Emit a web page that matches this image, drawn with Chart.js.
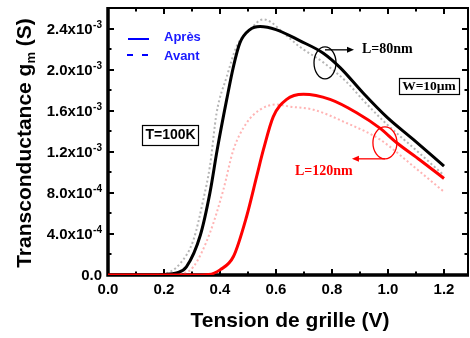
<!DOCTYPE html>
<html><head><meta charset="utf-8">
<script src="https://cdn.jsdelivr.net/npm/chart.js@4"></script>
<style>html,body{margin:0;padding:0;background:#fff}#wrap{width:470px;height:338px}</style>
</head><body><div id="wrap"><canvas id="c" width="470" height="338"></canvas></div>
<script>
// Gate voltage (V) and transconductance (units of 1e-3 S)
const vgApres80 = [0, 0.15, 0.2, 0.245, 0.28, 0.33, 0.364, 0.39, 0.424, 0.448, 0.471, 0.507, 0.543, 0.6, 0.686, 0.769, 0.829, 0.912, 0.995, 1.09, 1.2];
const gmApres80 = [0, 0, 0.005, 0.02, 0.08, 0.39, 0.8, 1.22, 1.71, 2.03, 2.26, 2.39, 2.42, 2.39, 2.28, 2.16, 2.02, 1.77, 1.54, 1.32, 1.06];
const vgAvant80 = [0, 0.15, 0.2, 0.257, 0.305, 0.34, 0.364, 0.388, 0.424, 0.46, 0.507, 0.555, 0.638, 0.686, 0.769, 0.852, 0.912, 0.995, 1.09, 1.2];
const gmAvant80 = [0, 0, 0.01, 0.11, 0.34, 0.73, 1.06, 1.58, 1.93, 2.23, 2.39, 2.49, 2.33, 2.22, 2.07, 1.88, 1.7, 1.47, 1.24, 0.97];
const vgApres120 = [0, 0.3, 0.36, 0.4, 0.448, 0.495, 0.531, 0.555, 0.59, 0.638, 0.698, 0.793, 0.888, 0.971, 1.03, 1.114, 1.2];
const gmApres120 = [0, 0, 0.005, 0.05, 0.18, 0.57, 0.96, 1.22, 1.54, 1.71, 1.76, 1.71, 1.58, 1.43, 1.29, 1.12, 0.94];
const vgAvant120 = [0, 0.22, 0.26, 0.305, 0.364, 0.412, 0.448, 0.495, 0.543, 0.6, 0.65, 0.733, 0.852, 0.971, 1.09, 1.2];
const gmAvant120 = [0, 0, 0.01, 0.08, 0.41, 0.83, 1.22, 1.48, 1.61, 1.66, 1.64, 1.61, 1.48, 1.32, 1.06, 0.81];

const xTicks = [0.0, 0.2, 0.4, 0.6, 0.8, 1.0, 1.2];
const xTickLabels = ['0.0', '0.2', '0.4', '0.6', '0.8', '1.0', '1.2'];
const yTicks = [0, 0.4, 0.8, 1.2, 1.6, 2.0, 2.4];
const yTickMantissa = ['0.0', '4.0x10', '8.0x10', '1.2x10', '1.6x10', '2.0x10', '2.4x10'];
const yTickExponent = ['', '-4', '-4', '-3', '-3', '-3', '-3'];
const legendLabels = ['Après', 'Avant'];
const xTitle = 'Tension de grille (V)';
const yTitleMain = 'Transconductance g';
const yTitleSub = 'm';
const yTitleEnd = ' (S)';

const pts = (xs, ys) => xs.map((x, i) => ({x: x, y: ys[i]}));

const F = '"Liberation Sans", Arial, sans-serif';
const TF = '"Liberation Serif", "Times New Roman", serif';

const framePlugin = {
  id: 'frame',
  beforeDatasetsDraw(chart) {
    const ctx = chart.ctx, a = chart.chartArea, xs = chart.scales.x, ys = chart.scales.y;
    ctx.save();
    ctx.strokeStyle = '#000';
    ctx.lineWidth = 2;
    ctx.beginPath();
    ctx.moveTo(a.left, a.top); ctx.lineTo(a.right, a.top); ctx.lineTo(a.right, a.bottom);
    ctx.stroke();
    ctx.lineWidth = 3.5;
    ctx.beginPath();
    ctx.moveTo(a.left, a.top - 1); ctx.lineTo(a.left, a.bottom); ctx.lineTo(a.right + 1, a.bottom);
    ctx.stroke();
    ctx.lineWidth = 2;
    ctx.beginPath();
    for (let v = 0; v <= 1.2001; v += 0.1) {
      const major = Math.abs(v / 0.2 - Math.round(v / 0.2)) < 1e-6;
      const L = major ? 6 : 3.5;
      const px = Math.round(xs.getPixelForValue(v));
      ctx.moveTo(px, a.bottom); ctx.lineTo(px, a.bottom - L);
      ctx.moveTo(px, a.top); ctx.lineTo(px, a.top + L);
    }
    for (let v = 0; v <= 2.6001; v += 0.2) {
      const major = Math.abs(v / 0.4 - Math.round(v / 0.4)) < 1e-6;
      const L = major ? 6 : 3.5;
      const py = Math.round(ys.getPixelForValue(v));
      ctx.moveTo(a.left, py); ctx.lineTo(a.left + L, py);
      ctx.moveTo(a.right, py); ctx.lineTo(a.right - L, py);
    }
    ctx.stroke();
    ctx.restore();
  },
  afterDraw(chart) {
    const ctx = chart.ctx, a = chart.chartArea, xs = chart.scales.x, ys = chart.scales.y;
    ctx.save();
    ctx.fillStyle = '#000';
    ctx.font = 'bold 15px ' + F;
    ctx.textAlign = 'center'; ctx.textBaseline = 'middle';
    xTicks.forEach((v, i) => ctx.fillText(xTickLabels[i], xs.getPixelForValue(v), a.bottom + 15));
    const rightEdge = a.left - 6;
    yTicks.forEach((v, i) => {
      const py = ys.getPixelForValue(v);
      ctx.font = 'bold 15px ' + F;
      const wm = ctx.measureText(yTickMantissa[i]).width;
      ctx.font = 'bold 10px ' + F;
      const we = yTickExponent[i] ? ctx.measureText(yTickExponent[i]).width + 0.5 : 0;
      const x0 = rightEdge - wm - we;
      ctx.textAlign = 'left';
      ctx.font = 'bold 15px ' + F;
      ctx.textBaseline = 'middle';
      ctx.fillText(yTickMantissa[i], x0, py + 1);
      if (yTickExponent[i]) {
        ctx.font = 'bold 10px ' + F;
        ctx.textBaseline = 'alphabetic';
        ctx.fillText(yTickExponent[i], x0 + wm + 0.5, py - 1);
      }
    });
    ctx.font = 'bold 21px ' + F;
    ctx.textAlign = 'center'; ctx.textBaseline = 'middle';
    ctx.fillText(xTitle, (xs.getPixelForValue(0) + xs.getPixelForValue(1.2)) / 2 + 14, 321);
    ctx.save();
    ctx.translate(25, 143);
    ctx.rotate(-Math.PI / 2);
    ctx.font = 'bold 21px ' + F;
    const w1 = ctx.measureText(yTitleMain).width;
    const w3 = ctx.measureText(yTitleEnd).width;
    ctx.font = 'bold 13px ' + F;
    const w2 = ctx.measureText(yTitleSub).width;
    let sx = -(w1 + w2 + w3) / 2;
    ctx.textAlign = 'left'; ctx.textBaseline = 'middle';
    ctx.font = 'bold 21px ' + F;
    ctx.fillText(yTitleMain, sx, 0);
    ctx.font = 'bold 13px ' + F;
    ctx.fillText(yTitleSub, sx + w1, 6);
    ctx.font = 'bold 21px ' + F;
    ctx.fillText(yTitleEnd, sx + w1 + w2, 0);
    ctx.restore();

    ctx.strokeStyle = '#0000ff'; ctx.lineWidth = 2;
    ctx.beginPath(); ctx.moveTo(128, 39); ctx.lineTo(149, 39); ctx.stroke();
    ctx.setLineDash([6, 9]);
    ctx.beginPath(); ctx.moveTo(127, 55); ctx.lineTo(150, 55); ctx.stroke();
    ctx.setLineDash([]);
    ctx.fillStyle = '#1a1aff';
    ctx.font = 'bold 13px ' + F;
    ctx.textAlign = 'left'; ctx.textBaseline = 'middle';
    ctx.fillText(legendLabels[0], 164, 37);
    ctx.fillText(legendLabels[1], 164, 56);

    ctx.fillStyle = '#000';
    ctx.font = 'bold 14px ' + F;
    ctx.textAlign = 'center';
    ctx.fillText('T=100K', 170.5, 135.5);
    ctx.lineWidth = 1.2; ctx.strokeStyle = '#000';
    ctx.strokeRect(142.5, 125.5, 56, 20);

    ctx.font = 'bold 13.5px ' + TF;
    ctx.fillText('W=10\u00b5m', 429, 86.5);
    ctx.strokeRect(399.5, 78.5, 60, 16);

    const ex = xs.getPixelForValue(0.775), ey = ys.getPixelForValue(2.066);
    ctx.lineWidth = 1.3;
    ctx.beginPath(); ctx.ellipse(ex, ey, 11, 16, 0, 0, Math.PI * 2); ctx.stroke();
    ctx.beginPath(); ctx.moveTo(ex, ey - 13); ctx.lineTo(ex + 25, ey - 13); ctx.stroke();
    ctx.beginPath(); ctx.moveTo(ex + 29, ey - 13); ctx.lineTo(ex + 22, ey - 16); ctx.lineTo(ex + 22, ey - 10); ctx.closePath(); ctx.fill();
    ctx.font = 'bold 14px ' + TF;
    ctx.textAlign = 'left';
    ctx.fillText('L=80nm', ex + 37, ey - 13);

    const rx = xs.getPixelForValue(0.989), ry = ys.getPixelForValue(1.287);
    ctx.strokeStyle = '#ff0000'; ctx.fillStyle = '#ff0000';
    ctx.beginPath(); ctx.ellipse(rx, ry, 12, 16, 0, 0, Math.PI * 2); ctx.stroke();
    ctx.beginPath(); ctx.moveTo(rx, ry + 16); ctx.lineTo(rx - 29, ry + 16); ctx.stroke();
    ctx.beginPath(); ctx.moveTo(rx - 33, ry + 16); ctx.lineTo(rx - 26, ry + 13); ctx.lineTo(rx - 26, ry + 19); ctx.closePath(); ctx.fill();
    ctx.font = 'bold 14px ' + TF;
    ctx.textAlign = 'left';
    ctx.fillText('L=120nm', rx - 90, ry + 29);
    ctx.restore();
  }
};

new Chart(document.getElementById('c'), {
  type: 'line',
  data: {
    datasets: [
      {label: 'Avant L=80nm', data: pts(vgAvant80, gmAvant80), borderColor: 'rgba(150,150,150,0.7)', borderWidth: 2, borderDash: [2, 2.5], order: 4},
      {label: 'Avant L=120nm', data: pts(vgAvant120, gmAvant120), borderColor: 'rgba(255,140,140,0.65)', borderWidth: 2, borderDash: [2, 2.5], order: 3},
      {label: 'Après L=80nm', data: pts(vgApres80, gmApres80), borderColor: '#000000', borderWidth: 3, order: 2},
      {label: 'Après L=120nm', data: pts(vgApres120, gmApres120), borderColor: '#ff0000', borderWidth: 3, order: 1}
    ]
  },
  options: {
    responsive: false,
    animation: false,
    devicePixelRatio: 1,
    layout: {padding: {left: 108, right: 2, top: 8, bottom: 63}},
    elements: {point: {radius: 0}, line: {cubicInterpolationMode: 'monotone', fill: false}},
    plugins: {legend: {display: false}, tooltip: {enabled: false}},
    scales: {
      x: {type: 'linear', min: 0, max: 1.2857, display: false},
      y: {type: 'linear', min: 0, max: 2.6, display: false}
    }
  },
  plugins: [framePlugin]
});
</script>
</body></html>
